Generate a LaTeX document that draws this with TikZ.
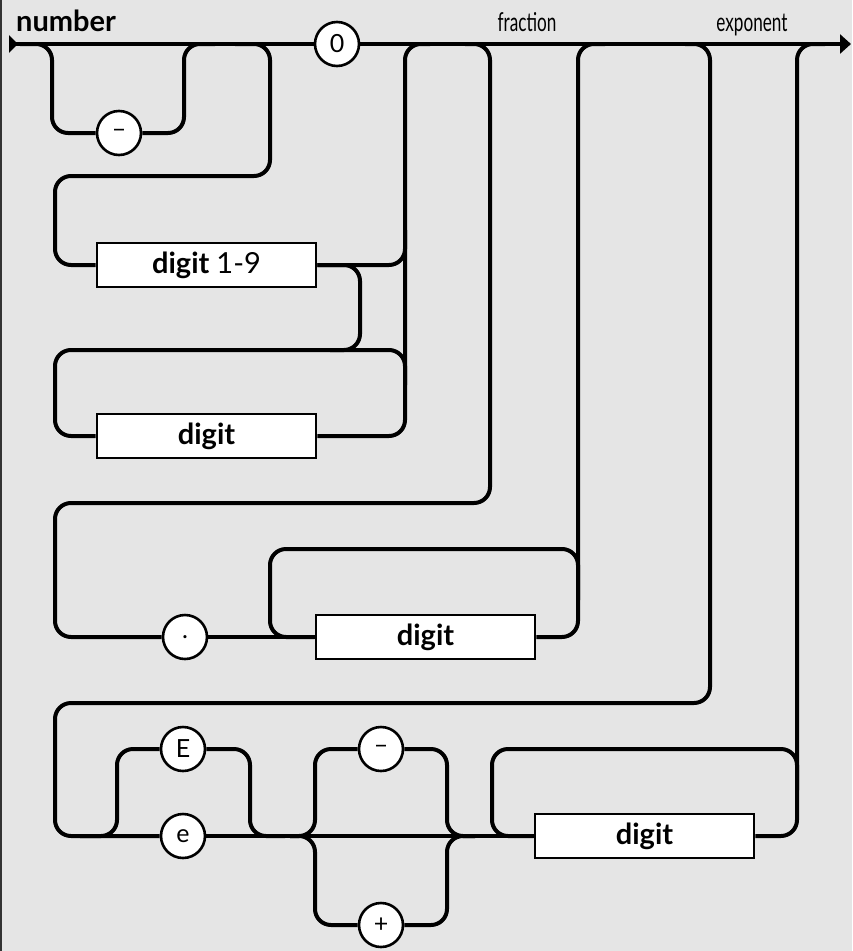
\documentclass[tikz,border=0pt]{standalone}
\usepackage{fontspec}
\setsansfont{Lato}
\newfontfamily\condfont[FakeStretch=0.66]{Lato}
\usetikzlibrary{arrows.meta}
\definecolor{paper}{HTML}{E5E5E5}
\definecolor{ink}{HTML}{000000}

\begin{document}
\begin{tikzpicture}[
  x=1pt, y=-1pt,
  font=\sffamily\fontsize{25}{29}\selectfont,
  rail/.style={draw=ink, line width=4pt, rounded corners=16pt},
  T/.style={
    circle, draw=ink, fill=white, line width=2.6pt,
    minimum size=44pt, inner sep=0pt
  },
  NT/.style={
    rectangle, draw=ink, fill=white, line width=2.6pt,
    minimum width=219pt, minimum height=44pt, inner sep=0pt,
    font=\sffamily\bfseries\fontsize{29}{33}\selectfont
  },
  lbl/.style={inner sep=0pt, anchor=base}
]
  \fill[paper] (0,0) rectangle (852,951);
  \fill[black!80] (0,0) rectangle (2,951);
  \useasboundingbox (0,0) rectangle (852,951);

  % labels
  \node[lbl, anchor=base west, font=\sffamily\bfseries\fontsize{29}{33}\selectfont] (title) at (16,31) {number};
  \node[lbl, font=\condfont\fontsize{26}{30}\selectfont] (frac) at (527,31) {fraction};
  \node[lbl, font=\condfont\fontsize{26}{30}\selectfont] (expo) at (752,31) {exponent};

  % terminals and non-terminals
  \node[T] (zero) at (337,44) {0};
  \node[T] (neg) at (119,133) {–};
  \node[NT] (d19) at (206.5,265) {digit \mdseries 1-9};
  \node[NT] (dg1) at (206.5,436) {digit};
  \node[T] (dot) at (185,637) {.};
  \node[NT] (dg2) at (425.5,637) {digit};
  \node[T] (bigE) at (183,749) {E};
  \node[T] (smallE) at (183,836) {e};
  \node[T] (minus) at (381,749) {–};
  \node[T] (plus) at (381,925) {+};
  \node[NT] (dg3) at (644.5,836) {digit};

  % junctions
  \coordinate (in) at (9,44);
  \coordinate (out) at (851,44);
  \coordinate (a1) at (20,44);
  \coordinate (a2) at (215,44);
  \coordinate (b1) at (235,44);
  \coordinate (c1) at (430,44);
  \coordinate (f1) at (465,44);
  \coordinate (f2) at (605,44);
  \coordinate (x1) at (685,44);
  \coordinate (x2) at (825,44);
  \coordinate (k1) at (330,350);
  \coordinate (k2) at (405,385);
  \coordinate (k3) at (578,600);
  \coordinate (k4) at (80,836);
  \coordinate (k5) at (285,836);
  \coordinate (k6) at (290,836);
  \coordinate (k7) at (475,836);
  \coordinate (k8) at (797,790);

  % main line
  \draw[rail, {Triangle[reversed, length=9pt, width=17pt]}-] (in) -- (zero.west);
  \draw[rail, -{Triangle[length=11pt, width=19pt]}] (zero.east) -- (out);

  % sign
  \draw[rail] (a1) -| (52,133) -- (neg.west);
  \draw[rail] (neg.east) -| (184,44) -- (a2);

  % integer part
  \draw[rail] (b1) -| (270,176) -| (55,265) -- (d19.west);
  \draw[rail] (d19.east) -| (405,230);
  \draw[rail] (d19.east) -| (360,350) -- (k1);
  \draw[rail] (k2) |- (55,350) |- (dg1.west);
  \draw[rail] (dg1.east) -| (405,44) -- (c1);

  % fraction
  \draw[rail] (f1) -| (490,503) -| (55,637) -- (dot.west);
  \draw[rail] (dot.east) -- (dg2.west);
  \draw[rail] (k3) |- (270,549) |- (dg2.west);
  \draw[rail] (dg2.east) -| (578,44) -- (f2);

  % exponent
  \draw[rail] (x1) -| (710,703) -| (55,836) -- (smallE.west);
  \draw[rail] (k4) -| (117,749) -- (bigE.west);
  \draw[rail] (bigE.east) -| (250,836) -- (k5);
  \draw[rail] (smallE.east) -- (dg3.west);
  \draw[rail] (k6) -| (315,749) -- (minus.west);
  \draw[rail] (k6) -| (315,925) -- (plus.west);
  \draw[rail] (minus.east) -| (447,836) -- (k7);
  \draw[rail] (plus.east) -| (447,836) -- (k7);
  \draw[rail] (k8) |- (492,749) |- (dg3.west);
  \draw[rail] (dg3.east) -| (797,44) -- (x2);
\end{tikzpicture}
\end{document}
